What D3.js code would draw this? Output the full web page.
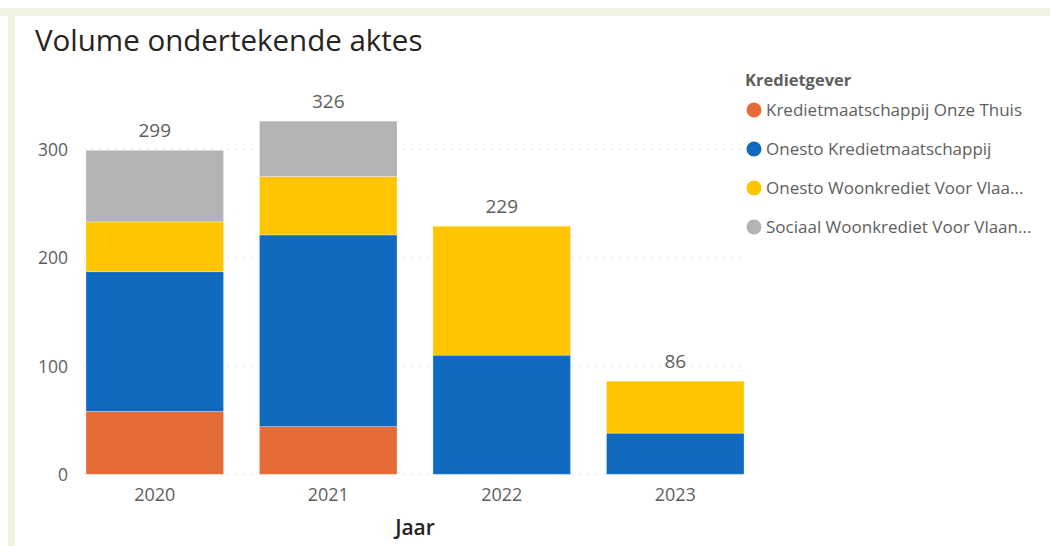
<!DOCTYPE html>
<html><head><meta charset="utf-8">
<script src="https://cdn.jsdelivr.net/npm/d3@7"></script>
<style>
html,body{margin:0;padding:0;background:#fff;}
svg{display:block;font-family:"Open Sans","Noto Sans",sans-serif;}
</style></head>
<body><svg id="c" width="1050" height="546"></svg>
<script>
const years = ["2020","2021","2022","2023"];
const seriesNames = ["Kredietmaatschappij Onze Thuis","Onesto Kredietmaatschappij","Onesto Woonkrediet Voor Vlaanderen","Sociaal Woonkrediet Voor Vlaanderen"];
const legendLabels = ["Kredietmaatschappij Onze Thuis","Onesto Kredietmaatschappij","Onesto Woonkrediet Voor Vlaa...","Sociaal Woonkrediet Voor Vlaan..."];
const onzeThuis = [58, 44, 0, 0];
const onestoKrediet = [129, 177, 110, 38];
const onestoWoon = [46, 54, 119, 48];
const sociaal = [66, 51, 0, 0];
const yTicks = [0, 100, 200, 300];
const colors = ["#E66C37","#106AC0","#FFC600","#B3B3B3"];

const svg = d3.select("#c");
// frame
svg.append("rect").attr("x",0).attr("y",8).attr("width",1050).attr("height",8).attr("fill","#F0F2E2");
svg.append("rect").attr("x",8).attr("y",8).attr("width",7).attr("height",538).attr("fill","#F0F2E2");

svg.append("text").attr("x",35).attr("y",51).attr("font-size",29.5).attr("fill","#252423")
  .text("Volume ondertekende aktes");

const values = [onzeThuis, onestoKrediet, onestoWoon, sociaal];
const rows = years.map((y,i)=>{const o={year:y}; seriesNames.forEach((s,j)=>o[s]=values[j][i]); return o;});
const stack = d3.stack().keys(seriesNames)(rows);
const totals = years.map((y,i)=>d3.sum(values,v=>v[i]));

const x = d3.scaleBand().domain(years).range([68,762]).paddingInner(0.207).paddingOuter(0.1035);
const y = d3.scaleLinear().domain([0,300]).range([474.3,149.3]);

// gridlines
svg.append("g").selectAll("line").data(yTicks).join("line")
  .attr("x1",84).attr("x2",742).attr("y1",d=>y(d)).attr("y2",d=>y(d))
  .attr("stroke","#C8C6C4").attr("stroke-width",1).attr("stroke-dasharray","1,7");

// y axis
const yAxis = d3.axisLeft(y).tickValues(yTicks).tickSize(0).tickPadding(0);
const gy = svg.append("g").attr("transform","translate(68,0)").call(yAxis);
gy.select(".domain").remove();
gy.selectAll("text").attr("font-size",17.5).attr("fill","#605E5C").attr("font-family","Open Sans").attr("dy","0.35em");

// bars
svg.append("g").selectAll("g").data(stack).join("g").attr("fill",(d,i)=>colors[i])
  .selectAll("rect").data(d=>d.filter(e=>e[1]-e[0]>0)).join("rect")
  .attr("x",d=>x(d.data.year)).attr("width",x.bandwidth())
  .attr("y",d=>y(d[1])).attr("height",d=>y(d[0])-y(d[1]))
  .attr("stroke","#ffffff").attr("stroke-opacity",0.35).attr("stroke-width",0.8);

// totals
svg.append("g").selectAll("text").data(years).join("text")
  .attr("x",d=>x(d)+x.bandwidth()/2).attr("y",(d,i)=>y(totals[i])-13)
  .attr("text-anchor","middle").attr("font-size",19).attr("fill","#605E5C")
  .text((d,i)=>totals[i]);

// x axis
const xAxis = d3.axisBottom(x).tickSize(0).tickPadding(0);
const gx = svg.append("g").attr("transform","translate(0,488)").call(xAxis);
gx.select(".domain").remove();
gx.selectAll("text").attr("font-size",18).attr("fill","#605E5C").attr("font-family","Open Sans");

svg.append("text").attr("x",415).attr("y",535).attr("text-anchor","middle")
  .attr("font-size",21).attr("font-weight",600).attr("fill","#252423").text("Jaar");

// legend
svg.append("text").attr("x",745).attr("y",86).attr("font-size",16.5).attr("font-weight","bold")
  .attr("fill","#605E5C").text("Kredietgever");
const lg = svg.append("g").selectAll("g").data(legendLabels).join("g")
  .attr("transform",(d,i)=>`translate(0,${110+i*39})`);
lg.append("circle").attr("cx",754).attr("cy",0).attr("r",7.5).attr("fill",(d,i)=>colors[i]);
lg.append("text").attr("x",766).attr("y",0).attr("dy","0.35em").attr("font-size",17)
  .attr("fill","#605E5C").text(d=>d);
</script></body></html>
